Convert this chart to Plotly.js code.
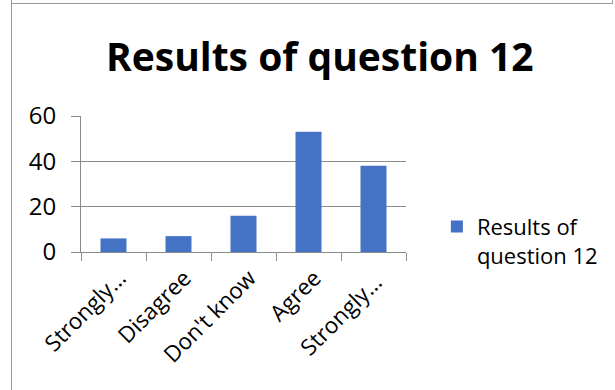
<!DOCTYPE html>
<html>
<head>
<meta charset="utf-8">
<script src="https://cdn.plot.ly/plotly-3.0.1.min.js"></script>
<style>
  html, body { margin: 0; padding: 0; background: #fff; }
  #wrap { position: relative; width: 615px; height: 390px; overflow: hidden; }
  #chart { position: absolute; left: 0; top: 0; width: 615px; height: 390px; }
  .frameL { position: absolute; left: 11px; top: 0; width: 1px; height: 390px; background: #9a9a9a; }
  .frameT { position: absolute; left: 11px; top: 3px; width: 602px; height: 1px; background: #9a9a9a; }
  .frameR { position: absolute; left: 612px; top: 0; width: 1px; height: 4px; background: #9a9a9a; }
</style>
</head>
<body>
<div id="wrap">
  <div id="chart"></div>
  <div class="frameL"></div>
  <div class="frameT"></div>
  <div class="frameR"></div>
</div>
<script>
const chartTitle = "Results of question 12";
const seriesName = "Results of<br>question 12";
const categories = ["Strongly…", "Disagree", "Don't know", "Agree", "Strongly… "];
const values = [6, 7, 16, 53, 38];
const yTicks = [0, 20, 40, 60];

const fontFamily = "'Open Sans', 'Noto Sans', sans-serif";
const gridColor = "#8c8c8c";

const data = [{
  type: "bar",
  x: categories,
  y: values,
  name: seriesName,
  marker: { color: "#4472C4" },
  showlegend: true,
  hoverinfo: "x+y"
}];

const layout = {
  width: 615,
  height: 390,
  paper_bgcolor: "rgba(0,0,0,0)",
  plot_bgcolor: "rgba(0,0,0,0)",
  margin: { l: 81, r: 205, t: 116, b: 138, pad: 0 },
  font: { family: fontFamily, color: "#000" },
  title: {
    text: "<b>" + chartTitle + "</b>",
    font: { family: fontFamily, size: 39, color: "#000" },
    x: 0.52,
    xanchor: "center",
    xref: "container",
    y: 0.852,
    yanchor: "middle",
    yref: "container"
  },
  bargap: 0.6,
  xaxis: {
    type: "category",
    tickangle: -45,
    tickfont: { size: 22.5, family: fontFamily, color: "#000" },
    showline: true,
    linecolor: gridColor,
    linewidth: 1,
    ticks: "outside",
    tickson: "boundaries",
    ticklen: 8,
    tickcolor: gridColor,
    showgrid: false,
    zeroline: false,
    ticklabelshift: 6,
    ticklabelstandoff: 3
  },
  yaxis: {
    range: [0, 60],
    tickvals: yTicks,
    ticktext: yTicks.map(String),
    tickfont: { size: 24, family: fontFamily, color: "#000" },
    showline: true,
    linecolor: gridColor,
    linewidth: 1,
    ticks: "outside",
    ticklen: 9,
    tickcolor: gridColor,
    showgrid: true,
    gridcolor: gridColor,
    gridwidth: 1,
    zeroline: false,
    ticklabelstandoff: 10
  },
  showlegend: true,
  legend: {
    x: 1.095,
    xanchor: "left",
    y: 0.08,
    yanchor: "middle",
    valign: "top",
    font: { size: 22, family: fontFamily, color: "#000" },
    bgcolor: "rgba(0,0,0,0)",
    itemwidth: 30
  }
};

Plotly.newPlot("chart", data, layout, { displayModeBar: false, staticPlot: true });
</script>
</body>
</html>
